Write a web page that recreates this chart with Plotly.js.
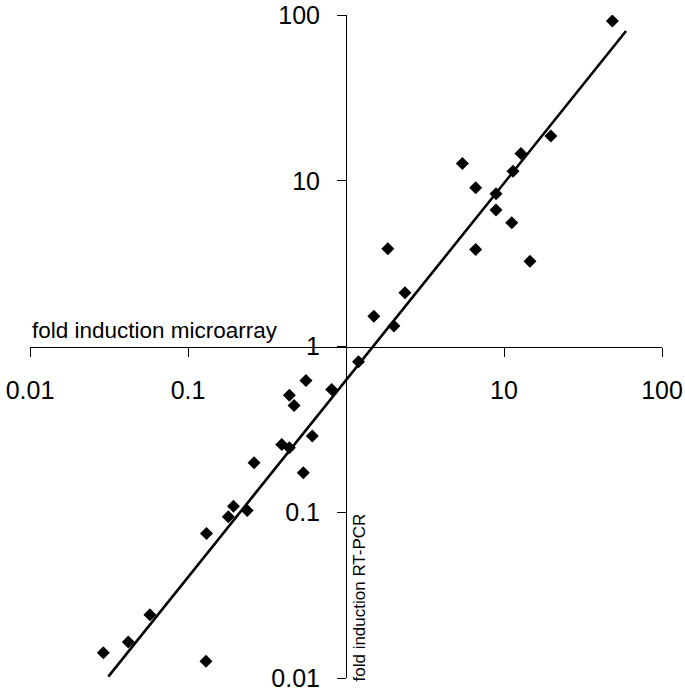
<!DOCTYPE html>
<html>
<head>
<meta charset="utf-8">
<script src="https://cdn.plot.ly/plotly-3.0.1.min.js"></script>
<style>html,body{margin:0;padding:0;background:#fff;}#chart{width:685px;height:694px;}</style>
</head>
<body>
<div id="chart"></div>
<script>
// fold induction values
const microarray = [48.5, 19.8, 12.8, 11.4, 5.45, 6.62, 8.9, 8.9, 11.2, 6.62, 14.6, 1.84, 2.36, 1.50, 2.01, 1.20,
  0.812, 0.558, 0.438, 0.469, 0.612, 0.392, 0.438, 0.262, 0.537, 0.194, 0.180, 0.237, 0.131, 0.0574, 0.0419, 0.0291, 0.130];
const rtpcr = [92, 18.6, 14.6, 11.4, 12.7, 9.08, 8.35, 6.65, 5.58, 3.85, 3.27, 3.89, 2.11, 1.52, 1.33, 0.809,
  0.55, 0.624, 0.508, 0.441, 0.288, 0.256, 0.245, 0.199, 0.173, 0.1087, 0.0938, 0.1024, 0.0744, 0.0241, 0.0165, 0.0142, 0.0126];
// regression line end points
const fitX = [0.0313, 59.2];
const fitY = [0.0102, 80.0];
const xTickVals = [0.01, 0.1, 1, 10, 100];
const xTickText = ["0.01", "0.1", "", "10", "100"];
const yTickVals = [0.01, 0.1, 1, 10, 100];
const yTickText = ["0.01", "0.1", "1", "10", "100"];
const xTitle = "fold induction microarray";
const yTitle = "fold induction RT-PCR";

const FONT = "Liberation Sans, Arial, Helvetica, sans-serif";

const traces = [
  {x: fitX, y: fitY, type: 'scatter', mode: 'lines', line: {color: '#000', width: 2.6}, hoverinfo: 'skip'},
  {x: microarray, y: rtpcr, type: 'scatter', mode: 'markers', marker: {symbol: 'diamond', size: 10, color: '#000', line: {width: 0}}}
];

const axisCommon = {
  type: 'log', range: [-2, 2], anchor: 'free', position: 0.5,
  showline: true, linecolor: '#000', linewidth: 1,
  ticks: 'outside', ticklen: 9, tickwidth: 1, tickcolor: '#000',
  showgrid: false, zeroline: false,
  tickfont: {family: FONT, size: 25, color: '#000'}
};

const layout = {
  width: 685, height: 694,
  margin: {l: 30, r: 23, t: 15, b: 16, pad: 0},
  showlegend: false,
  paper_bgcolor: '#fff', plot_bgcolor: '#fff',
  font: {family: FONT, color: '#000'},
  xaxis: Object.assign({}, axisCommon, {tickvals: xTickVals, ticktext: xTickText, ticklabelstandoff: 12}),
  yaxis: Object.assign({}, axisCommon, {tickvals: yTickVals, ticktext: yTickText, ticklabelstandoff: 12}),
  annotations: [
    {text: xTitle, xref: 'paper', yref: 'paper', x: 0, y: 0.5, xanchor: 'left', yanchor: 'bottom',
     yshift: 2, showarrow: false, font: {family: FONT, size: 22.5, color: '#000'}},
    {text: yTitle, xref: 'paper', yref: 'paper', x: 0.5, y: 0, xanchor: 'left', yanchor: 'bottom',
     xshift: 1, yshift: -6, textangle: -90, showarrow: false, font: {family: FONT, size: 17, color: '#000'}}
  ]
};

Plotly.newPlot('chart', traces, layout, {displayModeBar: false, staticPlot: true});
</script>
</body>
</html>
